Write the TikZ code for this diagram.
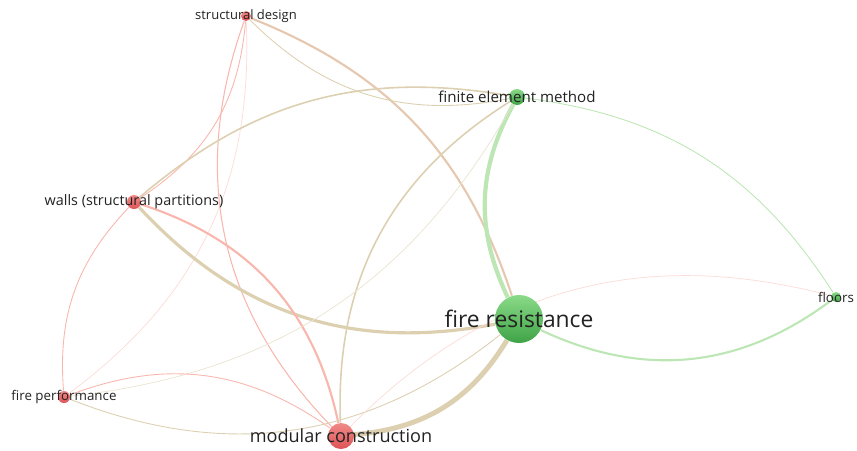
\documentclass[tikz,border=0pt]{standalone}
\usepackage{fontspec}
\setmainfont{Open Sans}
\usetikzlibrary{backgrounds}

\definecolor{kwred}{HTML}{DE5358}
\definecolor{kwredlt}{HTML}{F08A86}
\definecolor{kwgreen}{HTML}{3FA346}
\definecolor{kwgreenlt}{HTML}{8ADA88}
\definecolor{lnkred}{HTML}{F9B6AD}
\definecolor{lnkgreen}{HTML}{BDE6B5}
\definecolor{lnkmix}{HTML}{DCD0B0}
\definecolor{txt}{HTML}{222222}

\tikzset{
  kw/.style={circle,inner sep=0pt,minimum size=#1},
  redkw/.style={kw=#1,top color=kwredlt,bottom color=kwred},
  greenkw/.style={kw=#1,top color=kwgreenlt,bottom color=kwgreen},
  lbl/.style={text=txt,inner sep=0pt,font=\fontsize{#1}{#1}\selectfont},
  lnk/.style={line width=#1}
}

\begin{document}
\begin{tikzpicture}[x=0.02cm,y=-0.02cm]
    \useasboundingbox (0,0) rectangle (857,450);

    % keywords
    \node[redkw=0.2cm] (sd) at (246,16) {};
    \node[greenkw=0.32cm] (fem) at (517,97) {};
    \node[redkw=0.28cm] (wall) at (134,202) {};
    \node[greenkw=0.96cm] (fr) at (519,319) {};
    \node[greenkw=0.2cm] (flr) at (836,297) {};
    \node[redkw=0.24cm] (fp) at (64,397) {};
    \node[redkw=0.52cm] (mc) at (341,436) {};

    % links
    \begin{scope}[on background layer]
    \draw[lnk=1.2pt,lnkmix!70!lnkred] (sd) to[bend left=25] (fr);
    \draw[lnk=0.5pt,lnkmix] (sd) to[bend right=28] (fem);
    \draw[lnk=0.5pt,lnkred] (wall) to[bend right=26] (sd);
    \draw[lnk=0.6pt,lnkred] (sd) to[bend right=32] (mc);
    \draw[lnk=0.4pt,lnkred!50] (sd) to[bend left=28] (fp);
    \draw[lnk=0.9pt,lnkmix] (wall) to[bend left=25] (fem);
    \draw[lnk=1.8pt,lnkmix] (wall) to[bend right=29] (fr);
    \draw[lnk=1.2pt,lnkred] (wall) to[bend left=30] (mc);
    \draw[lnk=0.5pt,lnkred] (wall) to[bend right=24] (fp);
    \draw[lnk=0.9pt,lnkmix] (fem) to[bend right=30] (mc);
    \draw[lnk=2.4pt,lnkgreen] (fem) to[bend right=27] (fr);
    \draw[lnk=0.4pt,lnkmix!60] (fem) to[bend left=27] (fp);
    \draw[lnk=0.5pt,lnkgreen] (fem) to[bend left=25] (flr);
    \draw[lnk=0.5pt,lnkred] (fp) to[bend left=28] (mc);
    \draw[lnk=0.5pt,lnkmix] (fp) to[bend right=30] (fr);
    \draw[lnk=2.8pt,lnkmix] (mc) to[bend right=27] (fr);
    \draw[lnk=0.4pt,lnkred!50] (mc) to[bend left=30] (flr);
    \draw[lnk=1.2pt,lnkgreen] (fr) to[bend right=31] (flr);
    \end{scope}

    % labels
    \node[lbl=7.4pt] (sdl) at (sd) {structural design};
    \node[lbl=8.6pt] (feml) at (fem) {finite element method};
    \node[lbl=8.2pt] (walll) at (wall) {walls (structural partitions)};
    \node[lbl=13pt] (frl) at (fr) {fire resistance};
    \node[lbl=7.6pt] (flrl) at (flr) {floors};
    \node[lbl=7.6pt] (fpl) at (fp) {fire performance};
    \node[lbl=10.3pt] (mcl) at (mc) {modular construction};
\end{tikzpicture}
\end{document}
